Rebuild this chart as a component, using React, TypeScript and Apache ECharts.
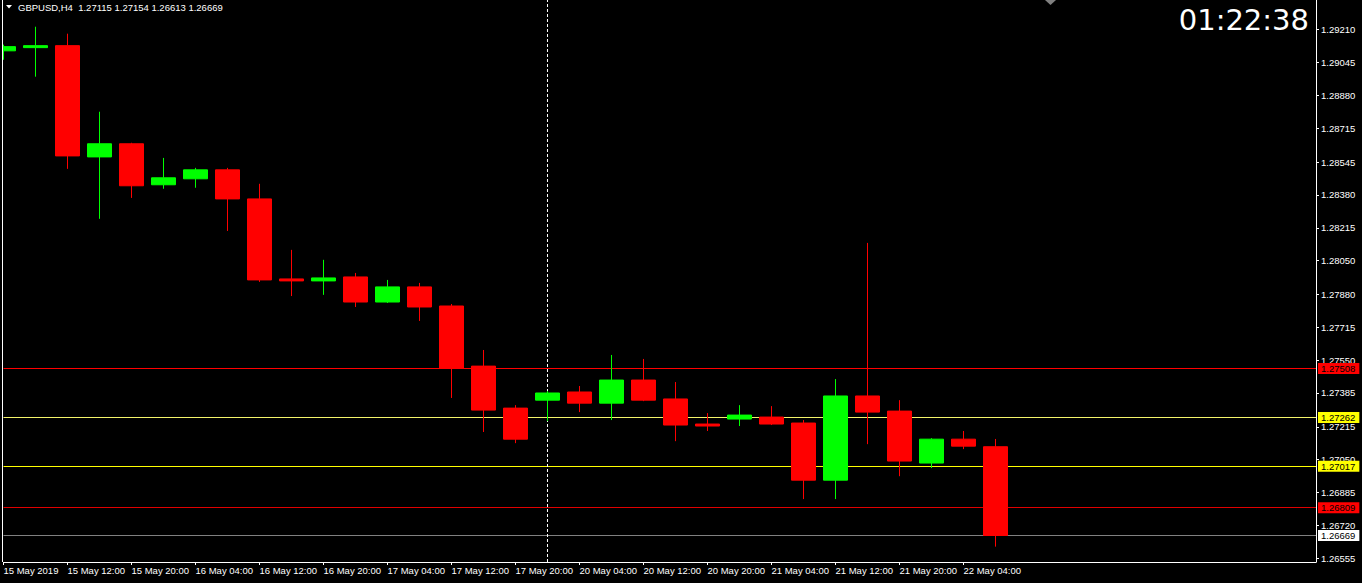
import React, { useEffect, useRef } from 'react';
import * as echarts from 'echarts';

const symbolName = 'GBPUSD,H4';
const opens = [1.29104, 1.2912, 1.2913, 1.28571, 1.28637, 1.28431, 1.28461, 1.28506, 1.2836, 1.27958, 1.27948, 1.27968, 1.27842, 1.27918, 1.27822, 1.2752, 1.27309, 1.27349, 1.2739, 1.27334, 1.2745, 1.27355, 1.27229, 1.27254, 1.27264, 1.27234, 1.26947, 1.2737, 1.27294, 1.27033, 1.27153, 1.27115];
const highs = [1.29135, 1.29225, 1.2919, 1.28798, 1.28642, 1.28566, 1.28516, 1.28516, 1.28436, 1.28104, 1.28054, 1.27988, 1.27953, 1.27938, 1.27832, 1.27601, 1.27324, 1.27395, 1.2742, 1.27576, 1.27556, 1.2744, 1.27284, 1.27324, 1.27319, 1.27249, 1.27455, 1.28139, 1.27349, 1.27158, 1.27194, 1.27154];
const lows = [1.29059, 1.28974, 1.28511, 1.2826, 1.28365, 1.28411, 1.28416, 1.28199, 1.27943, 1.27872, 1.27878, 1.27817, 1.27837, 1.27747, 1.2736, 1.27189, 1.27133, 1.27244, 1.27289, 1.27249, 1.27344, 1.27143, 1.27194, 1.27219, 1.27224, 1.26852, 1.26852, 1.27128, 1.26967, 1.27008, 1.27103, 1.26613];
const closes = [1.29125, 1.2913, 1.28576, 1.28637, 1.28426, 1.28466, 1.28506, 1.2836, 1.27953, 1.27948, 1.27963, 1.27842, 1.27918, 1.27817, 1.2751, 1.27299, 1.27153, 1.27385, 1.27334, 1.2745, 1.27349, 1.27224, 1.27219, 1.27274, 1.27229, 1.26947, 1.2737, 1.27289, 1.27043, 1.27153, 1.27118, 1.26669];

const timeLabelIndex = [0, 2, 4, 6, 8, 10, 12, 14, 16, 18, 20, 22, 24, 26, 28, 30];
const timeLabels = ['15 May 2019', '15 May 12:00', '15 May 20:00', '16 May 04:00', '16 May 12:00', '16 May 20:00', '17 May 04:00', '17 May 12:00', '17 May 20:00', '20 May 04:00', '20 May 12:00', '20 May 20:00', '21 May 04:00', '21 May 12:00', '21 May 20:00', '22 May 04:00'];
const priceTicks = [1.2921, 1.29045, 1.2888, 1.28715, 1.28545, 1.2838, 1.28215, 1.2805, 1.2788, 1.27715, 1.2755, 1.27385, 1.27215, 1.2705, 1.26885, 1.2672, 1.26555];
const levelPrices = [1.27508, 1.27262, 1.27017, 1.26809, 1.26669];
const levelColors = ['#ff0000', '#f4f46a', '#ffff00', '#e00000', '#808080'];
const levelLabelBg = ['#ff0000', '#ffff00', '#ffff00', '#ff0000', '#ffffff'];
const markerIndex = 17;
const clockText = '01:22:38';

const FONT = '"Liberation Sans", Arial, sans-serif';

export default function App() {
  const ref = useRef<HTMLDivElement>(null);
  useEffect(() => {
    if (!ref.current) return;
    const chart = echarts.init(ref.current, undefined, { renderer: 'svg' });
    const last = opens.length - 1;
    const title = `${symbolName}  ${opens[last].toFixed(5)} ${highs[last].toFixed(5)} ${lows[last].toFixed(5)} ${closes[last].toFixed(5)}`;
    const levelSeries = levelPrices.map((p, i) => ({
      type: 'line',
      z: 1,
      data: [],
      silent: true,
      markLine: {
        z: 1,
        silent: true,
        precision: 5,
        symbol: ['none', 'none'],
        animation: false,
        lineStyle: { color: levelColors[i], width: 1, type: 'solid', opacity: 1 },
        label: {
          show: true,
          position: 'end',
          distance: 2,
          formatter: p.toFixed(5),
          backgroundColor: levelLabelBg[i],
          color: '#000000',
          fontFamily: FONT,
          fontSize: 9.5,
          padding: [1, 4, 0, 3],
        },
        data: [{ yAxis: p }],
      },
    }));
    const option: any = {
      animation: false,
      backgroundColor: '#000000',
      grid: { left: 3.5, right: 46, top: 0, bottom: 21 },
      xAxis: {
        type: 'value',
        min: 0,
        max: 1312.5 / 32,
        axisLine: { show: true, onZero: false, lineStyle: { color: '#ffffff', width: 1 } },
        axisTick: { show: true, customValues: timeLabelIndex, length: 3, lineStyle: { color: '#ffffff' } },
        axisLabel: {
          show: true,
          customValues: timeLabelIndex,
          formatter: (v: number) => {
            const k = timeLabelIndex.indexOf(Math.round(v));
            return k >= 0 ? timeLabels[k] : '';
          },
          color: '#ffffff',
          fontFamily: FONT,
          fontSize: 9.5,
          align: 'left',
          margin: 3,
        },
        splitLine: { show: false },
      },
      yAxis: {
        type: 'value',
        position: 'right',
        min: 1.265359,
        max: 1.293593,
        axisLine: { show: true, onZero: false, lineStyle: { color: '#ffffff', width: 1 } },
        axisTick: { show: true, customValues: priceTicks, length: 3, lineStyle: { color: '#ffffff' } },
        axisLabel: {
          show: true,
          customValues: priceTicks,
          formatter: (v: number) => v.toFixed(5),
          color: '#ffffff',
          fontFamily: FONT,
          fontSize: 9.5,
          margin: 5,
        },
        splitLine: { show: false },
      },
      series: [
        ...levelSeries,
        {
          type: 'candlestick',
          z: 3,
          barWidth: 24,
          data: opens.map((o, i) => [i, o, closes[i], lows[i], highs[i]]),
          itemStyle: {
            color: '#00ff00',
            color0: '#ff0000',
            borderColor: '#00ff00',
            borderColor0: '#ff0000',
            borderWidth: 1,
          },
          markLine: {
            z: 1,
            silent: true,
            precision: 5,
            symbol: ['none', 'none'],
            animation: false,
            lineStyle: { color: '#ffffff', width: 1, type: [3, 2] },
            label: { show: false },
            data: [{ xAxis: markerIndex }],
          },
        },
      ],
      graphic: [
        { type: 'rect', z: 100, shape: { x: 0, y: 0, width: 2, height: 562 }, style: { fill: '#000000' } },
        { type: 'rect', z: 100, shape: { x: 2, y: 0, width: 1, height: 562 }, style: { fill: '#ffffff' } },
        { type: 'polygon', z: 100, shape: { points: [[6, 5], [12, 5], [9, 8.5]] }, style: { fill: '#ffffff' } },
        {
          type: 'text', z: 100, x: 18, y: 7,
          style: { text: title, fill: '#ffffff', font: `9.5px ${FONT}`, verticalAlign: 'middle' },
        },
        {
          type: 'text', z: 100, x: 1309, y: 20,
          style: { text: clockText, fill: '#ffffff', font: '29px "DejaVu Sans", sans-serif', align: 'right', verticalAlign: 'middle' },
        },
        { type: 'polygon', z: 100, shape: { points: [[1045, 0], [1056, 0], [1050.5, 5]] }, style: { fill: '#808080' } },
      ],
    };
    chart.setOption(option);
    return () => chart.dispose();
  }, []);
  return (
    <div
      ref={ref}
      style={{ position: 'fixed', left: 0, top: 0, width: 1362, height: 583, background: '#000' }}
    />
  );
}
